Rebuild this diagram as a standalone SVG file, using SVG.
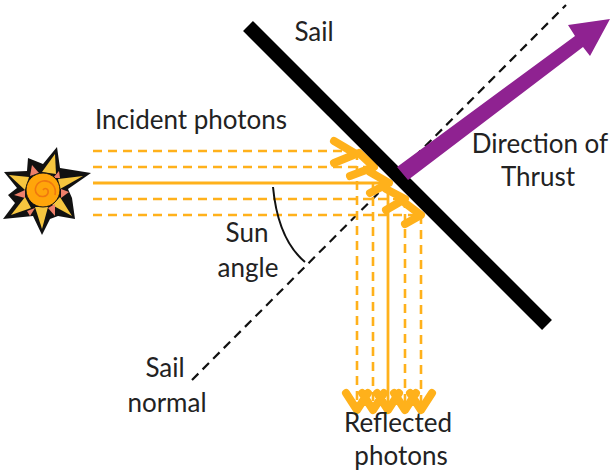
<svg xmlns="http://www.w3.org/2000/svg" width="615" height="476" viewBox="0 0 615 476">
<style>
text{font-family:Lato,"Noto Sans",sans-serif;font-size:26px;fill:#222;text-anchor:middle}
.d{fill:none;stroke:#ffb11b;stroke-width:2.6;stroke-dasharray:9 6}
.s{fill:none;stroke:#ffb11b;stroke-width:2.8}
.c{fill:none;stroke:#ffb11b;stroke-width:8;stroke-linecap:round;stroke-linejoin:round}
</style>
<rect width="615" height="476" fill="#fff"/>
<g id="sun">
<polygon points="57,147 60,168 91,173 68,189 72,198 75,219 58,216 50,219 42,235 33,216 3,219 15,203 8,195 17,188 4,172 27,171 28,158 43,164" fill="#111"/>
<polygon points="55,154 42,172 56,174" fill="#f6c63f"/>
<polygon points="83,176 58,179 60,189" fill="#f6c63f"/>
<polygon points="72,216 60,197 52,205" fill="#f6c63f"/>
<polygon points="42,229 35,207 48,207" fill="#f6c63f"/>
<polygon points="11,215 25,197 31,208" fill="#f6c63f"/>
<polygon points="9,175 29,177 25,190" fill="#f6c63f"/>
<polygon points="32,165 39,173 30,176" fill="#ee7f6a"/>
<polygon points="59,171 53,178 60,178" fill="#ee7f6a"/>
<polygon points="69,192 61,189 61,198" fill="#ee7f6a"/>
<polygon points="55,216 48,208 55,204" fill="#ee7f6a"/>
<polygon points="27,211 35,208 30,216" fill="#ee7f6a"/>
<polygon points="14,195 25,190 25,198" fill="#ee7f6a"/>
<circle cx="43" cy="190" r="17" fill="#ffa50a" stroke="#111" stroke-width="1"/>
<path d="M43 190c2-3 6-1 5 3-1 4-8 5-11 1-4-5 0-12 6-13 7-1 14 5 12 14" fill="none" stroke="#f0780f" stroke-width="1.6"/>
</g>
<g id="connectors">
<line id="sail-normal" x1="192" y1="380" x2="566" y2="5" stroke="#111" stroke-width="2.2" stroke-dasharray="9 6"/>
<g id="incident">
<line class="d" x1="93" y1="151" x2="357" y2="151"/>
<line class="d" x1="93" y1="167" x2="373" y2="167"/>
<line class="s" x1="93" y1="183" x2="389" y2="183"/>
<line class="d" x1="93" y1="199" x2="405" y2="199"/>
<line class="d" x1="93" y1="215" x2="421" y2="215"/>
</g>
<g id="reflected">
<line class="d" x1="357" y1="151" x2="357" y2="406"/>
<line class="d" x1="373" y1="167" x2="373" y2="406"/>
<line class="s" x1="388" y1="183" x2="388" y2="406"/>
<line class="d" x1="405" y1="199" x2="405" y2="406"/>
<line class="d" x1="421" y1="215" x2="421" y2="406"/>
</g>
<path class="c" d="M334 141L356 154L334 163M350 176L374 167L359 153M370 172L389 183L370 193M386 189L405 199L386 210M405 203L421 215L405 224"/>
<path class="c" d="M346 393L357 410L368 393M362 393L373 410L384 393M377 393L388 410L399 393M394 393L405 410L416 393M410 393L421 410L432 393"/>
<path id="arc" d="M273 187C276 219 286 246 305 262" fill="none" stroke="#111" stroke-width="2"/>
<line id="sail-line" x1="248" y1="26" x2="547" y2="325" stroke="#000" stroke-width="14"/>
<polygon id="thrust" points="397,167 575,36 568,25 610,19 590,56 583,47 408,180" fill="#8f2291"/>
</g>
<g id="labels">
<text x="314" y="41">Sail</text>
<text x="191" y="129">Incident photons</text>
<text x="540" y="153">Direction of</text>
<text x="538" y="186">Thrust</text>
<text x="247" y="242">Sun</text>
<text x="248" y="277">angle</text>
<text x="165" y="377">Sail</text>
<text x="167" y="412">normal</text>
<text x="398" y="432">Reflected</text>
<text x="401" y="465">photons</text>
</g>
</svg>
